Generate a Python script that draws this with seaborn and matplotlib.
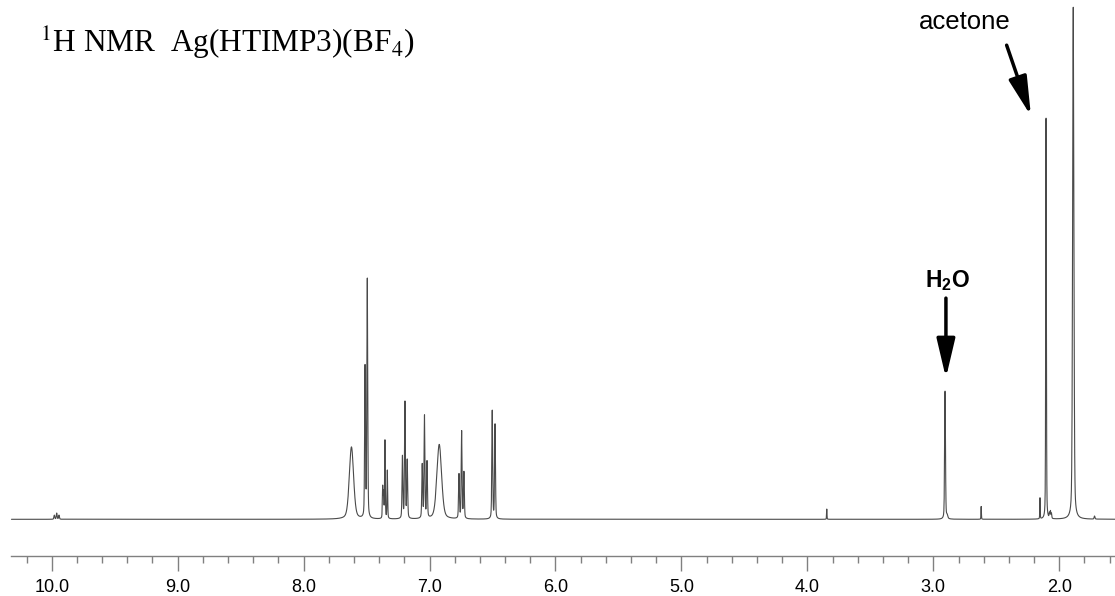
import numpy as np
import pandas as pd
import matplotlib
matplotlib.use("Agg")
import matplotlib.pyplot as plt
from matplotlib.ticker import FixedLocator, FormatStrFormatter
import seaborn as sns

# Peak list of the 1H NMR spectrum: shift (ppm), relative height, half-width (ppm)
shift_ppm = [9.979, 9.960, 9.942,
             7.620, 7.512, 7.494,
             7.372, 7.365, 7.354, 7.335,
             7.215, 7.195, 7.177,
             7.058, 7.040, 7.020,
             6.923,
             6.766, 6.745, 6.727,
             6.502, 6.480,
             3.846,
             2.907, 2.890,
             2.620,
             2.153, 2.105, 2.078, 2.070, 2.062,
             1.889, 1.720]
height_rel = [0.8, 1.2, 0.8,
              14.1, 29.3, 46.5,
              6.1, 4.9, 15.2, 9.4,
              12.1, 22.7, 11.3,
              10.4, 19.9, 10.9,
              14.6,
              8.6, 17.0, 9.0,
              21.1, 18.4,
              2.0,
              25.0, 0.6,
              2.5,
              4.1, 78.3, 1.0, 1.4, 1.0,
              100.0, 0.6]
halfwidth_ppm = [0.004, 0.004, 0.004,
                 0.020, 0.004, 0.004,
                 0.003, 0.003, 0.003, 0.003,
                 0.004, 0.004, 0.004,
                 0.004, 0.004, 0.004,
                 0.022,
                 0.004, 0.004, 0.004,
                 0.004, 0.004,
                 0.002,
                 0.004, 0.006,
                 0.002,
                 0.002, 0.003, 0.003, 0.003, 0.003,
                 0.006, 0.004]

major_ticks = [10.0, 9.0, 8.0, 7.0, 6.0, 5.0, 4.0, 3.0, 2.0]
minor_ticks = [round(10.2 - 0.2 * i, 1) for i in range(44)]

title_text = r"$^{1}$H NMR  Ag(HTIMP3)(BF$_{4}$)"
acetone_label = "acetone"
water_label = r"H$_\mathbf{2}$O"

# Build the spectrum as a sum of pseudo-Voigt lines
eta = 0.35
ppm = np.union1d(np.arange(1.50, 10.32, 0.0005), np.array(shift_ppm))
intensity = np.zeros_like(ppm)
for c, h, w in zip(shift_ppm, height_rel, halfwidth_ppm):
    lor = w**2 / (w**2 + (ppm - c) ** 2)
    gau = np.exp(-np.log(2) * ((ppm - c) / w) ** 2)
    intensity += h * (eta * lor + (1 - eta) * gau)
spectrum = pd.DataFrame({"ppm": ppm, "intensity": intensity})

sns.set_theme(style="white")
plt.rcParams["font.family"] = ["Liberation Sans", "DejaVu Sans"]
plt.rcParams["mathtext.fontset"] = "custom"
plt.rcParams["mathtext.rm"] = "Liberation Sans"
plt.rcParams["mathtext.bf"] = "Liberation Sans:bold"

W, H = 1115, 596
fig = plt.figure(figsize=(W / 100, H / 100), dpi=100)
axis_y = 40.3
ax = fig.add_axes([0, axis_y / H, 1, (H - axis_y) / H])

sns.lineplot(data=spectrum, x="ppm", y="intensity", ax=ax, color="#4a4a4a",
             linewidth=0.8, estimator=None, sort=False)

px = 100.0 / 512.0
ax.set_xlim(10.4105, 1.5576)
ax.set_ylim(-36.4 * px, (H - axis_y - 36.4) * px)

for s in ("top", "left", "right"):
    ax.spines[s].set_visible(False)
ax.spines["bottom"].set_color("#808080")
ax.spines["bottom"].set_linewidth(1.0)
ax.spines["bottom"].set_bounds(10.32, 1.5576)
ax.set_yticks([])
ax.xaxis.set_major_locator(FixedLocator(major_ticks))
ax.xaxis.set_major_formatter(FormatStrFormatter("%.1f"))
ax.xaxis.set_minor_locator(FixedLocator([t for t in minor_ticks if t not in major_ticks]))
ax.tick_params(axis="x", which="major", direction="out", length=11, width=1.0,
               color="#808080", labelsize=13, pad=5.5, labelcolor="black",
               bottom=True)
ax.tick_params(axis="x", which="minor", direction="out", length=5.3, width=1.0,
               color="#808080", bottom=True)
ax.set_xlabel("")
ax.set_ylabel("")

fig.text(40 / W, 1 - 43 / H, title_text, family="Liberation Serif",
         math_fontfamily="stix", fontsize=22.5, ha="left", va="center",
         color="black")

arrow_style = dict(arrowstyle="-|>,head_length=0.85,head_width=0.2",
                   lw=2.5, color="black", mutation_scale=28,
                   shrinkA=0, shrinkB=0)

ax.text(2.749, 97.1, acetone_label, fontsize=18.5, ha="center", va="center",
        color="black")
ax.annotate("", xy=(2.225, 78.8), xytext=(2.418, 92.6), arrowprops=arrow_style)

ax.text(2.885, 46.7, water_label, fontsize=16.5, fontweight="bold",
        math_fontfamily="custom", ha="center", va="center", color="black")
ax.annotate("", xy=(2.900, 27.6), xytext=(2.900, 43.2), arrowprops=arrow_style)

fig.savefig("out.png", dpi=100)
